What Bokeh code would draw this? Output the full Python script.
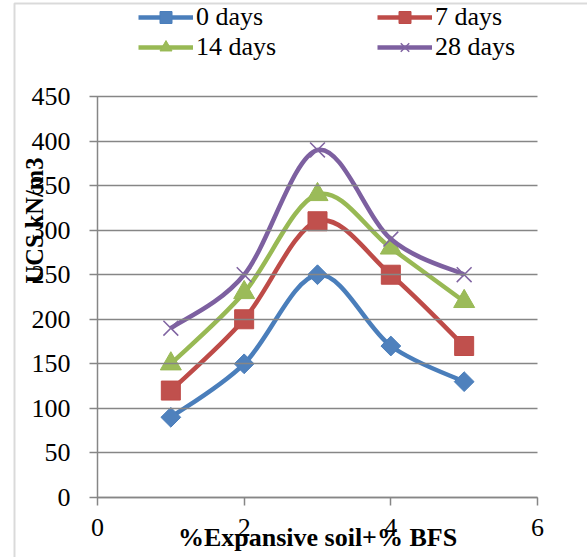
import math
from bokeh.plotting import figure
from bokeh.models import Range1d, FixedTicker, Legend, LegendItem, Label, BoxAnnotation
from bokeh.embed import file_html
from bokeh.resources import INLINE

# ---- data ----
mix = [1, 2, 3, 4, 5]
days_0 = [90, 150, 250, 170, 130]
days_7 = [120, 200, 310, 250, 170]
days_14 = [150, 230, 340, 280, 220]
days_28 = [190, 250, 390, 290, 250]
series_names = ["0 days", "7 days", "14 days", "28 days"]
y_ticks = [0, 50, 100, 150, 200, 250, 300, 350, 400, 450]
x_ticks = [0, 2, 4, 6]
x_title = "%Expansive soil+% BFS"
y_title = "UCS kN/m3"

FONT = "Liberation Serif"
FS = "26px"

# ---- page geometry (pixels) ----
W, H = 587, 557
PX_L, PX_R = 97, 537      # pixel positions of x = 0 and x = 6
PY_B, PY_T = 497, 96      # pixel positions of y = 0 and y = 450
X0, X1 = x_ticks[0], x_ticks[-1]
Y0, Y1 = y_ticks[0], y_ticks[-1]
sx = (PX_R - PX_L) / (X1 - X0)
sy = (PY_B - PY_T) / (Y1 - Y0)
xr = Range1d(X0 - PX_L / sx, X1 + (W - PX_R) / sx)
yr = Range1d(Y0 - (H - PY_B) / sy, Y1 + PY_T / sy)

p = figure(width=W, height=H, min_border=0,
           x_range=xr, y_range=yr,
           output_backend="svg", toolbar_location=None,
           background_fill_color="white", border_fill_color="white")
p.outline_line_color = None
p.xgrid.visible = False
p.ygrid.visible = False

GRAY = "#868686"
for ax in (p.xaxis[0], p.yaxis[0]):
    ax.fixed_location = 0
    ax.axis_line_color = GRAY
    ax.axis_line_width = 1.5
    ax.major_tick_line_color = GRAY
    ax.major_tick_line_width = 1.5
    ax.major_tick_out = 8
    ax.minor_tick_line_color = None
    ax.major_label_text_font = FONT
    ax.major_label_text_font_size = FS
    ax.major_label_text_color = "black"
p.xaxis[0].ticker = FixedTicker(ticks=x_ticks)
p.yaxis[0].ticker = FixedTicker(ticks=y_ticks)
p.xaxis[0].bounds = (X0, X1)
p.yaxis[0].bounds = (Y0, Y1)
p.xaxis[0].major_tick_in = 0
p.yaxis[0].major_tick_in = PX_R - PX_L   # ticks drawn across the plot act as gridlines
p.xaxis[0].major_label_standoff = 13
p.yaxis[0].major_label_standoff = 19


def smooth_segments(xs, ys):
    n = len(xs)
    out = dict(x0=[], y0=[], x1=[], y1=[], cx0=[], cy0=[], cx1=[], cy1=[])
    for i in range(n - 1):
        xm, ym = (xs[i - 1], ys[i - 1]) if i > 0 else (xs[i], ys[i])
        xp, yp = (xs[i + 2], ys[i + 2]) if i + 2 < n else (xs[i + 1], ys[i + 1])
        out["x0"].append(xs[i]); out["y0"].append(ys[i])
        out["x1"].append(xs[i + 1]); out["y1"].append(ys[i + 1])
        out["cx0"].append(xs[i] + (xs[i + 1] - xm) / 6.0)
        out["cy0"].append(ys[i] + (ys[i + 1] - ym) / 6.0)
        out["cx1"].append(xs[i + 1] - (xp - xs[i]) / 6.0)
        out["cy1"].append(ys[i + 1] - (yp - ys[i]) / 6.0)
    return out


styles = [
    dict(line="#4A7EBB", fill="#4F81BD", marker="square", size=14, angle=math.pi / 4, mlw=1),
    dict(line="#BE4B48", fill="#C0504D", marker="square", size=19, angle=0, mlw=1),
    dict(line="#98B954", fill="#9BBB59", marker="triangle", size=21, angle=0, mlw=1),
    dict(line="#7D60A0", fill="#8064A2", marker="x", size=21, angle=0, mlw=1.5),
]
all_series = [days_0, days_7, days_14, days_28]

items = []
for name, vals, st in zip(series_names, all_series, styles):
    seg = smooth_segments(mix, vals)
    lr = p.bezier(x0=seg["x0"], y0=seg["y0"], x1=seg["x1"], y1=seg["y1"],
                  cx0=seg["cx0"], cy0=seg["cy0"], cx1=seg["cx1"], cy1=seg["cy1"],
                  line_color=st["line"], line_width=4.5)
    if st["marker"] == "x":
        sr = p.scatter(mix, vals, marker="x", size=st["size"], line_color=st["fill"],
                       line_width=st["mlw"])
    else:
        sr = p.scatter(mix, vals, marker=st["marker"], size=st["size"], angle=st["angle"],
                       fill_color=st["fill"], line_color=st["line"], line_width=st["mlw"])
    items.append(LegendItem(label=name, renderers=[lr, sr]))

# legend fills column by column: order so rows read "0, 7" / "14, 28"
legend_order = [0, 2, 1, 3]
legend = Legend(items=[items[i] for i in legend_order], ncols=2, location=(138, 495),
                glyph_width=55, glyph_height=30, spacing=0,
                label_standoff=3, label_width=181, padding=0, margin=0,
                border_line_color=None, background_fill_alpha=0,
                label_text_font=FONT, label_text_font_size=FS,
                label_text_color="black")
p.add_layout(legend)

p.add_layout(Label(x=34, y=H - 220, x_units="screen", y_units="screen",
                   text=y_title, angle=math.pi / 2,
                   text_align="center", text_baseline="middle",
                   text_font=FONT, text_font_size="24.5px", text_font_style="bold",
                   text_color="black"))
p.add_layout(Label(x=(PX_L + PX_R) / 2, y=H - 537, x_units="screen", y_units="screen",
                   text=x_title,
                   text_align="center", text_baseline="middle",
                   text_font=FONT, text_font_size=FS, text_font_style="bold",
                   text_color="black"))

# outer chart-area border (left and top edges visible; right edge lies off the page)
p.add_layout(BoxAnnotation(left=14, right=W + 20, top=H - 3, bottom=-20,
                           left_units="screen", right_units="screen",
                           top_units="screen", bottom_units="screen",
                           fill_alpha=0, line_color=GRAY, line_width=2))

open("out.html", "w").write(file_html(p, INLINE))
